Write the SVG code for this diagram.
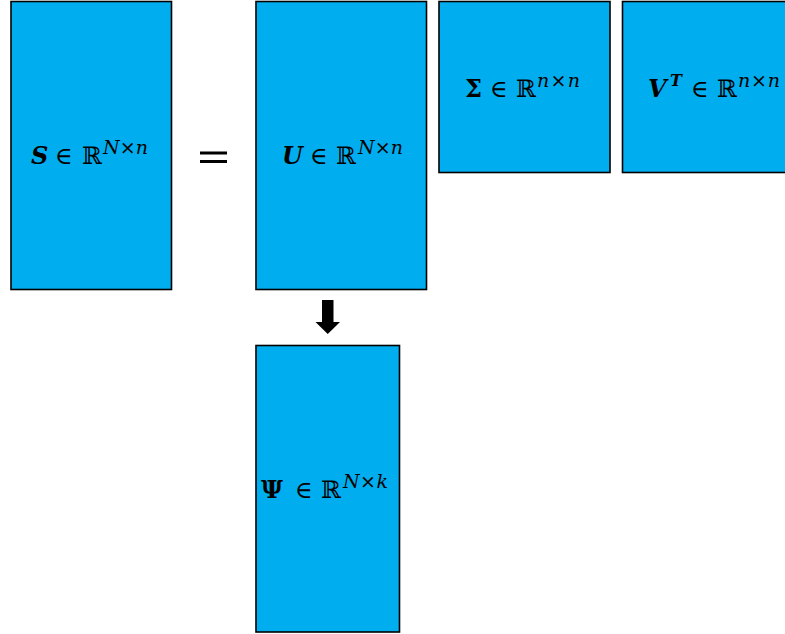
<svg xmlns="http://www.w3.org/2000/svg" width="785" height="634" viewBox="0 0 785 634">
<style>
.box{fill:#00AEEF;stroke:#000;stroke-width:1.6}
.lbl{font-family:"DejaVu Serif","Liberation Serif",serif;font-size:24px;fill:#000}
.b{font-weight:bold;font-style:italic}
.bu{font-weight:bold}
.sup{font-size:19px;font-style:italic}
</style>
<rect width="785" height="634" fill="#fff"/>
<g id="node-S">
<rect class="box" x="11" y="1.5" width="160.5" height="288"/>
<text class="lbl" y="164"><tspan class="b" x="31">S</tspan><tspan x="55">∈</tspan><tspan x="82">ℝ</tspan><tspan class="sup" x="103" y="154" textLength="45">N×n</tspan></text>
</g>
<g id="equals">
<rect x="200" y="151.5" width="27" height="3" fill="#000"/>
<rect x="200" y="160" width="27" height="3" fill="#000"/>
</g>
<g id="node-U">
<rect class="box" x="256" y="1.5" width="170.5" height="288"/>
<text class="lbl" y="164"><tspan class="b" x="282">U</tspan><tspan x="310">∈</tspan><tspan x="336">ℝ</tspan><tspan class="sup" x="358" y="154" textLength="45">N×n</tspan></text>
</g>
<g id="node-Sigma">
<rect class="box" x="439" y="1.5" width="171" height="171"/>
<text class="lbl" y="97"><tspan class="bu" x="465">Σ</tspan><tspan x="490">∈</tspan><tspan x="516">ℝ</tspan><tspan class="sup" x="537" y="87" textLength="43">n×n</tspan></text>
</g>
<g id="node-VT">
<rect class="box" x="622.5" y="1.5" width="171" height="171"/>
<text class="lbl" y="97"><tspan class="b" x="648">V</tspan><tspan class="b" font-size="16" x="670" y="86">T</tspan><tspan x="691" y="97">∈</tspan><tspan x="717">ℝ</tspan><tspan class="sup" x="738" y="87" textLength="42">n×n</tspan></text>
</g>
<g id="node-Psi">
<rect class="box" x="256" y="345.5" width="143.5" height="286.5"/>
<text class="lbl" y="498"><tspan class="bu" x="261">Ψ</tspan><tspan x="295">∈</tspan><tspan x="321">ℝ</tspan><tspan class="sup" x="343" y="488" textLength="45">N×k</tspan></text>
</g>
<g id="connectors">
<polygon points="322,300 333.5,300 333.5,322 340,322 327.75,334 315.5,322 322,322" fill="#000"/>
</g>
</svg>
